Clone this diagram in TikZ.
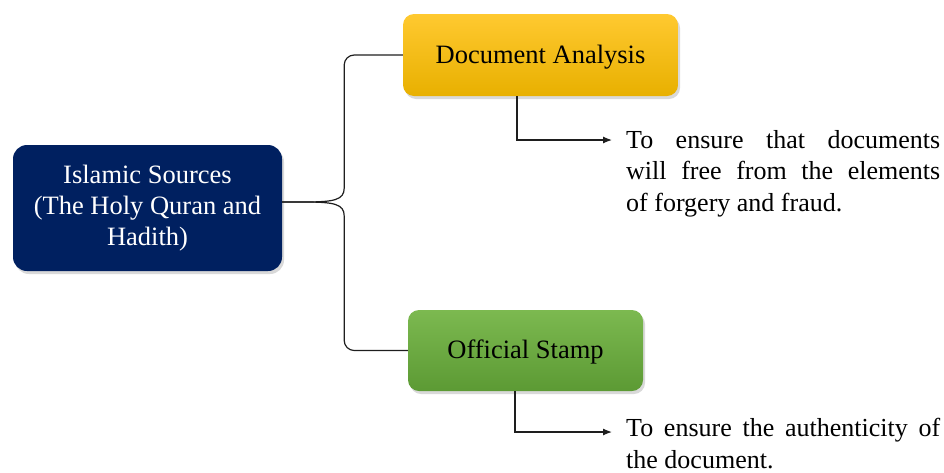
\documentclass[tikz,border=0pt]{standalone}
\usepackage{fontspec}
\setmainfont{Liberation Serif}
\usetikzlibrary{arrows.meta,shadows}
\definecolor{navy}{RGB}{0,32,96}
\definecolor{goldtop}{RGB}{255,201,48}
\definecolor{goldbot}{RGB}{232,176,0}
\definecolor{greentop}{RGB}{124,185,80}
\definecolor{greenbot}{RGB}{92,154,52}
\definecolor{linegray}{RGB}{30,30,30}

\begin{document}
\begin{tikzpicture}[x=1pt,y=-1pt,
    box/.style={rounded corners=14pt,inner sep=0pt,align=center,
        font=\fontsize{26.5}{31}\selectfont,
        drop shadow={shadow xshift=2pt,shadow yshift=-3pt,opacity=0.3}},
    note/.style={anchor=north west,inner sep=0pt,text width=314pt,align=justify,
        font=\fontsize{26}{31.5}\selectfont},
    link/.style={draw=linegray,line width=1.2pt},
    tip/.style={-{Latex[length=9pt,width=7pt]}}]
    \useasboundingbox (0,0) rectangle (944,472);

    \node[box,fill=navy,text=white,minimum width=269pt,minimum height=126pt] (src) at (147.5,208) {Islamic Sources\\(The Holy Quran and\\Hadith)};
    \node[box,top color=goldtop,bottom color=goldbot,minimum width=275pt,minimum height=82pt,rounded corners=11pt,text depth=2pt] (doc) at (540.5,55) {Document Analysis};
    \node[box,top color=greentop,bottom color=greenbot,minimum width=235pt,minimum height=81pt,rounded corners=11pt,text depth=2pt] (stamp) at (525.5,350.5) {Official Stamp};

    % brace
    \draw[link] ([yshift=6pt]src.east) -- ++(22,0) .. controls +(30,0) and +(0,12) .. ++(40,-14) [rounded corners=10pt] |- (doc.west);
    \draw[link] ([yshift=6pt]src.east) -- ++(22,0) .. controls +(30,0) and +(0,-12) .. ++(40,14) [rounded corners=10pt] |- (stamp.west);

    \coordinate (tip1) at (612,140);
    \coordinate (tip2) at (612,432);
    \draw[link,tip] ([xshift=-23.5pt]doc.south) |- (tip1);
    \draw[link,tip] ([xshift=-10.5pt]stamp.south) |- (tip2);

    \node[note] (note1) at ([xshift=14pt,yshift=10pt]tip1) {To ensure that documents\linebreak will free from the elements\linebreak of forgery and fraud.};
    \node[note] (note2) at ([xshift=14pt,yshift=14pt]tip2) {To ensure the authenticity of\linebreak the document.};
\end{tikzpicture}
\end{document}
